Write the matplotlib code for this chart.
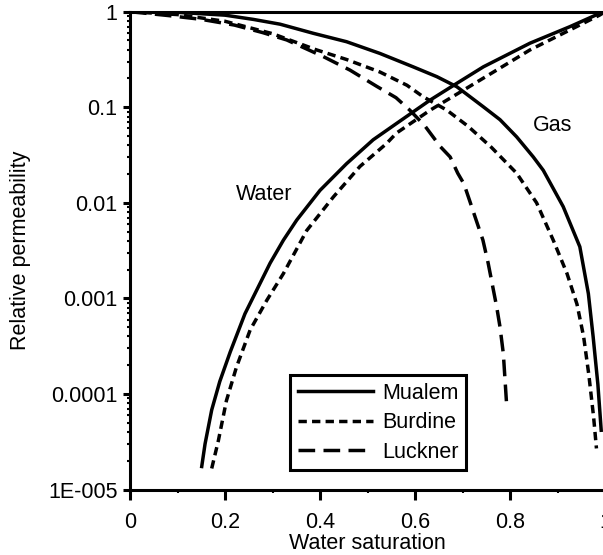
import matplotlib
matplotlib.use("Agg")
import matplotlib.pyplot as plt
from matplotlib.ticker import FixedLocator, FixedFormatter, LogLocator, NullFormatter, MultipleLocator

plt.rcParams['font.family'] = ['Liberation Sans', 'DejaVu Sans']

# ---- data ----
mualem_w_x = [0.151, 0.158, 0.172, 0.189, 0.211, 0.242, 0.295, 0.323, 0.351, 0.40, 0.456,
              0.512, 0.561, 0.632, 0.688, 0.744, 0.842, 0.926, 0.989, 1.0]
mualem_w_y = [1.74e-5, 3.0e-5, 6.8e-5, 1.35e-4, 2.75e-4, 6.9e-4, 2.34e-3, 4.07e-3, 6.6e-3,
              0.0135, 0.0257, 0.0457, 0.0676, 0.119, 0.178, 0.265, 0.468, 0.697, 0.962, 1.0]

burdine_w_x = [0.172, 0.186, 0.203, 0.224, 0.253, 0.288, 0.323, 0.372, 0.428, 0.484, 0.54,
               0.561, 0.632, 0.702, 0.772, 0.842, 0.912, 0.989, 1.0]
burdine_w_y = [1.66e-5, 3.24e-5, 8.5e-5, 1.9e-4, 4.68e-4, 9.55e-4, 1.82e-3, 5.13e-3, 0.0115,
               0.024, 0.0417, 0.0537, 0.0933, 0.151, 0.245, 0.398, 0.594, 0.923, 1.0]

mualem_g_x = [0.0, 0.1, 0.2, 0.26, 0.316, 0.386, 0.456, 0.526, 0.596, 0.646, 0.688, 0.744,
              0.779, 0.814, 0.849, 0.87, 0.912, 0.947, 0.965, 0.975, 0.985, 0.992]
mualem_g_y = [1.0, 0.985, 0.92, 0.83, 0.74, 0.594, 0.485, 0.366, 0.265, 0.209, 0.164, 0.101,
              0.0741, 0.049, 0.0302, 0.0219, 0.00912, 0.00347, 0.00112, 3.98e-4, 1.26e-4, 4.17e-5]

burdine_g_x = [0.0, 0.1, 0.2, 0.3, 0.393, 0.456, 0.526, 0.583, 0.617, 0.667, 0.712, 0.761,
               0.814, 0.856, 0.891, 0.92, 0.941, 0.955, 0.966, 0.976, 0.982]
burdine_g_y = [1.0, 0.933, 0.794, 0.589, 0.398, 0.316, 0.234, 0.17, 0.129, 0.0933, 0.0631,
               0.038, 0.0204, 0.01, 0.00407, 0.00182, 8.7e-4, 3.98e-4, 1.58e-4, 5.75e-5, 2.69e-5]

luckner_g_x = [0.0, 0.08, 0.15, 0.22, 0.28, 0.33, 0.407, 0.463, 0.519, 0.56, 0.589, 0.62,
               0.653, 0.674, 0.69, 0.703, 0.716, 0.726, 0.743, 0.754, 0.772, 0.779, 0.786, 0.793]
luckner_g_y = [1.0, 0.912, 0.832, 0.724, 0.603, 0.506, 0.339, 0.245, 0.166, 0.126, 0.0933,
               0.0646, 0.0389, 0.0302, 0.0204, 0.0158, 0.0102, 0.00724, 0.00407, 0.00234,
               8.13e-4, 5.01e-4, 2.63e-4, 7.59e-5]

x_ticks = [0, 0.2, 0.4, 0.6, 0.8, 1.0]
x_tick_labels = ['0', '0.2', '0.4', '0.6', '0.8', '1']
y_ticks = [1e-5, 1e-4, 1e-3, 1e-2, 1e-1, 1]
y_tick_labels = ['1E-005', '0.0001', '0.001', '0.01', '0.1', '1']

# ---- figure ----
W, H = 603, 555
fig = plt.figure(figsize=(W / 100, H / 100), dpi=100)
ax = fig.add_axes([130 / W, (H - 489.5) / H, 475 / W, 477.8 / H])

lw = 2.5
dot_style = (0, (2.4, 1.5))
dash_style = (0, (4.8, 2.4))

l1, = ax.plot(mualem_w_x, mualem_w_y, color='black', lw=lw, ls='-', label='Mualem')
l2, = ax.plot(burdine_w_x, burdine_w_y, color='black', lw=lw, ls=dot_style, label='Burdine')
ax.plot(mualem_g_x, mualem_g_y, color='black', lw=lw, ls='-')
ax.plot(burdine_g_x, burdine_g_y, color='black', lw=lw, ls=dot_style)
l3, = ax.plot(luckner_g_x, luckner_g_y, color='black', lw=lw, ls=dash_style, label='Luckner')

ax.set_yscale('log')
ax.set_xlim(0, 1)
ax.set_ylim(1e-5, 1)

fs = 15.5
ax.xaxis.set_major_locator(FixedLocator(x_ticks))
ax.xaxis.set_major_formatter(FixedFormatter(x_tick_labels))
ax.xaxis.set_minor_locator(MultipleLocator(0.1))
ax.yaxis.set_major_locator(FixedLocator(y_ticks))
ax.yaxis.set_major_formatter(FixedFormatter(y_tick_labels))
ax.yaxis.set_minor_locator(LogLocator(base=10, subs=range(2, 10)))
ax.yaxis.set_minor_formatter(NullFormatter())

ax.tick_params(axis='both', which='major', direction='out', length=5, width=2.2,
               labelsize=fs, colors='black')
ax.tick_params(axis='both', which='minor', direction='out', length=2.5, width=1.5)
ax.tick_params(axis='x', which='major', length=7, pad=9)
ax.tick_params(axis='y', which='major', pad=4)

for s in ax.spines.values():
    s.set_linewidth(2.2)
    s.set_color('black')

ax.set_xlabel('Water saturation', fontsize=fs, labelpad=0)
ax.set_ylabel('Relative permeability', fontsize=fs, labelpad=12)

ax.text(0.282, 0.0123, 'Water', fontsize=fs, ha='center', va='center')
ax.text(0.889, 0.065, 'Gas', fontsize=fs, ha='center', va='center')

leg = ax.legend(handles=[l1, l2, l3], loc='lower left', bbox_to_anchor=(0.337, 0.04),
                fontsize=fs, frameon=True, fancybox=False, shadow=False,
                handlelength=3.5, handletextpad=0.42, labelspacing=0.4,
                borderpad=0.35, borderaxespad=0.0)
frame = leg.get_frame()
frame.set_edgecolor('black')
frame.set_linewidth(2.2)
frame.set_facecolor('white')
frame.set_alpha(1)

fig.savefig('out.png', dpi=100)
